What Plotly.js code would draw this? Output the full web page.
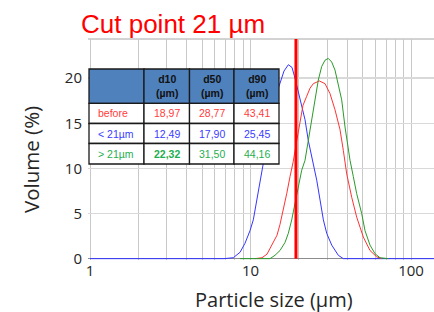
<!DOCTYPE html>
<html>
<head>
<meta charset="utf-8">
<script src="https://cdn.plot.ly/plotly-3.0.1.min.js"></script>
<style>html,body{margin:0;padding:0;background:#fff;}#chart{width:434px;height:312px;}</style>
</head>
<body>
<div id="chart"></div>
<script>
// ---- data ----
const sizeBefore = [10.67, 11.79, 12.67, 13.61, 14.63, 15.27, 16.01, 16.81, 17.63, 18.48, 19.21, 20.34, 21.24, 22.39, 23.49, 24.63, 26.84, 29.12, 31.28, 33.61, 36.12, 37.87, 39.76, 42.72, 45.88, 50.45, 55.53, 61.13, 65.69];
const volBefore  = [0, 0.1, 0.5, 1.5, 2.6, 3.8, 5.4, 7.2, 9.1, 10.8, 12.6, 15.4, 17.0, 18.0, 18.9, 19.4, 19.7, 19.4, 18.3, 16.5, 14.3, 12.0, 9.4, 6.8, 4.6, 2.4, 0.9, 0.2, 0];

const sizeFine = [1, 6.84, 7.81, 8.60, 9.24, 9.93, 10.41, 10.93, 11.46, 12.02, 12.85, 13.81, 14.63, 15.11, 16.17, 17.21, 18.14, 18.94, 20.34, 21.86, 22.91, 24.06, 25.86, 27.12, 28.44, 29.85, 32.07, 35.24, 37.87, 140];
const volFine  = [0, 0, 0.1, 0.7, 1.7, 3.1, 4.3, 6.5, 8.7, 10.6, 13.5, 16.5, 18.5, 19.2, 20.8, 21.5, 21.2, 20.0, 17.6, 15.4, 13.1, 11.3, 8.7, 6.5, 4.3, 2.8, 1.5, 0.37, 0, 0];

const sizeCoarse = [8.60, 13.23, 14.21, 15.27, 16.41, 17.20, 18.06, 18.94, 19.86, 20.84, 21.86, 22.92, 24.06, 25.23, 26.45, 27.77, 29.12, 30.52, 32.05, 33.61, 35.24, 37.00, 38.81, 40.68, 41.69, 43.71, 45.88, 49.30, 51.69, 55.53, 59.66, 64.11, 72.22];
const volCoarse  = [0, 0, 0.37, 0.9, 1.8, 2.8, 4.3, 6.1, 8.0, 9.8, 10.9, 13.1, 15.4, 17.6, 19.8, 21.3, 22.0, 22.2, 21.8, 20.9, 19.4, 17.6, 14.6, 12.0, 10.9, 9.1, 7.2, 5.0, 3.1, 1.5, 0.55, 0.1, 0];

const cutSize = [19.2, 19.2];
const cutVol = [0, 24.4];

const xTickVals = [1, 2, 3, 4, 5, 6, 7, 8, 9, 10, 20, 30, 40, 50, 60, 70, 80, 90, 100];
const xTickText = ['1', '', '', '', '', '', '', '', '', '10', '', '', '', '', '', '', '', '', '100'];
const yTickVals = [0, 5, 10, 15, 20];

const tableHeader = ['', 'd10<br>(µm)', 'd50<br>(µm)', 'd90<br>(µm)'];
const rowLabels = ['before', '< 21µm', '> 21µm'];
const d10 = ['18,97', '12,49', '<b>22,32</b>'];
const d50 = ['28,77', '17,90', '31,50'];
const d90 = ['43,41', '25,45', '44,16'];

// ---- styles / geometry (pixels in the 434x312 frame) ----
const M = {l: 88, r: 0, t: 39, b: 52};
const PW = 434 - M.l - M.r, PH = 312 - M.t - M.b;
const px2x = p => (p - M.l) / PW;
const px2y = p => (312 - M.b - p) / PH;

const RED = '#ff3333', BLUE = '#3535ff', GREEN = '#2a9a2a';
const rowColors = ['#ff3b3b', '#3b3bff', '#1fae4f'];
const colEdges = [89, 144, 189.5, 234, 279];
const rowEdges = [69, 103.3, 123.5, 143.5, 164];
const TF = 'Liberation Sans, Arial, sans-serif';

const shapes = [
  {type: 'line', xref: 'paper', yref: 'paper', x0: 0, x1: 1, y0: 1, y1: 1, line: {color: '#a6a6a6', width: 1}, layer: 'below'}
];
const annotations = [];

const bodyCols = [rowLabels, d10, d50, d90];
for (let r = 0; r < 4; r++) {
  for (let c = 0; c < 4; c++) {
    shapes.push({
      type: 'rect', xref: 'paper', yref: 'paper', layer: 'above',
      x0: px2x(colEdges[c]), x1: px2x(colEdges[c + 1]),
      y0: px2y(rowEdges[r + 1]), y1: px2y(rowEdges[r]),
      fillcolor: r === 0 ? '#4f81bd' : '#ffffff',
      line: {color: '#1a1a1a', width: 1.3}
    });
    const txt = r === 0 ? tableHeader[c] : bodyCols[c][r - 1];
    if (!txt) continue;
    const yc = (rowEdges[r] + rowEdges[r + 1]) / 2;
    const left = c === 0;
    annotations.push({
      xref: 'paper', yref: 'paper', showarrow: false,
      x: left ? px2x(colEdges[c] + 7) : px2x((colEdges[c] + colEdges[c + 1]) / 2),
      xanchor: left ? 'left' : 'center',
      y: px2y(yc), yanchor: 'middle',
      text: r === 0 ? '<b>' + txt.replace('<br>', '</b><br><b>') + '</b>' : txt,
      font: {family: TF, size: 10.5, color: r === 0 ? '#111111' : rowColors[r - 1]},
      align: 'center'
    });
  }
}
annotations.push({
  xref: 'paper', yref: 'paper', showarrow: false,
  x: px2x(274), y: px2y(299), xanchor: 'center', yanchor: 'middle',
  text: 'Particle size (µm)',
  font: {family: 'Open Sans, sans-serif', size: 20, color: '#262626'}
});
annotations.push({
  xref: 'paper', yref: 'paper', showarrow: false, textangle: -90,
  x: px2x(31), y: px2y(160), xanchor: 'center', yanchor: 'middle',
  text: 'Volume (%)',
  font: {family: 'Open Sans, sans-serif', size: 20.5, color: '#262626'}
});

const traces = [
  {x: sizeFine, y: volFine, type: 'scatter', mode: 'lines', line: {color: BLUE, width: 1}, hoverinfo: 'skip'},
  {x: sizeBefore, y: volBefore, type: 'scatter', mode: 'lines', line: {color: RED, width: 1}, hoverinfo: 'skip'},
  {x: sizeCoarse, y: volCoarse, type: 'scatter', mode: 'lines', line: {color: GREEN, width: 1}, hoverinfo: 'skip'},
  {x: cutSize, y: cutVol, type: 'scatter', mode: 'lines', line: {color: '#ff0000', width: 3}, hoverinfo: 'skip'}
];

const layout = {
  width: 434, height: 312,
  margin: {l: M.l, r: M.r, t: M.t, b: M.b, pad: 0},
  paper_bgcolor: '#ffffff', plot_bgcolor: '#ffffff',
  showlegend: false,
  title: {
    text: 'Cut point 21 µm',
    font: {family: 'Liberation Sans, Arial, sans-serif', size: 26, color: '#ff0000'},
    xref: 'container', x: 81 / 434, xanchor: 'left',
    yref: 'container', y: 1 - 24 / 312, yanchor: 'middle'
  },
  xaxis: {
    type: 'log',
    range: [-0.0125, 2.1433],
    tickmode: 'array', tickvals: xTickVals, ticktext: xTickText,
    showgrid: true, gridcolor: '#c8c8c8', gridwidth: 1,
    zeroline: false, showline: false, ticks: '',
    tickfont: {family: 'Open Sans, sans-serif', size: 15, color: '#262626'}
  },
  yaxis: {
    range: [-0.15, 24.35],
    tickmode: 'array', tickvals: yTickVals,
    showgrid: true, gridcolor: '#d9d9d9', gridwidth: 1.5,
    zeroline: true, zerolinecolor: '#8c8c8c', zerolinewidth: 1,
    showline: false, ticks: '', ticklabelstandoff: 5,
    tickfont: {family: 'Open Sans, sans-serif', size: 15, color: '#262626'}
  },
  shapes: shapes,
  annotations: annotations
};

Plotly.newPlot('chart', traces, layout, {staticPlot: true, displayModeBar: false});
</script>
</body>
</html>
